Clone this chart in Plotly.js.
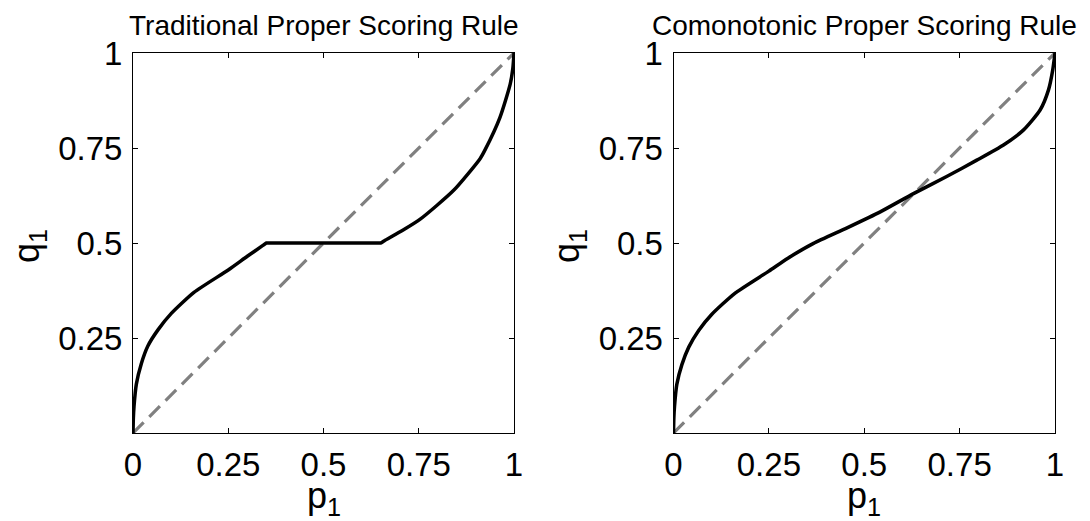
<!DOCTYPE html>
<html>
<head>
<meta charset="utf-8">
<script src="https://cdn.plot.ly/plotly-3.0.1.min.js"></script>
<style>html,body{margin:0;padding:0;background:#fff;}#chart{width:1090px;height:521px;}</style>
</head>
<body>
<div id="chart"></div>
<script>
// Traditional proper scoring rule (left panel)
const tradP = [0, 0.001, 0.0026, 0.0087, 0.022, 0.039, 0.066, 0.10, 0.16, 0.25, 0.30, 0.34, 0.35, 0.36, 0.5, 0.64, 0.65, 0.66, 0.709, 0.753, 0.841, 0.911, 0.924, 0.963, 0.990, 0.997, 1];
const tradQ = [0, 0.04, 0.069, 0.128, 0.183, 0.229, 0.272, 0.314, 0.370, 0.429, 0.465, 0.493, 0.5, 0.5, 0.5, 0.5, 0.5, 0.506, 0.534, 0.562, 0.638, 0.722, 0.745, 0.830, 0.918, 0.960, 1];
// Comonotonic proper scoring rule (right panel)
const comoP = [0, 0.001, 0.0026, 0.0087, 0.022, 0.04, 0.066, 0.10, 0.16, 0.25, 0.30, 0.367, 0.455, 0.542, 0.629, 0.716, 0.795, 0.865, 0.917, 0.961, 0.983, 0.994, 1];
const comoQ = [0, 0.04, 0.069, 0.128, 0.18, 0.226, 0.27, 0.312, 0.367, 0.426, 0.460, 0.499, 0.540, 0.582, 0.630, 0.675, 0.718, 0.758, 0.797, 0.85, 0.903, 0.955, 1];
// Diagonal reference line
const diagP = [0, 1];
const diagQ = [0, 1];
// Ticks and labels
const xTicks = [0, 0.25, 0.5, 0.75, 1];
const xTickText = ['0', '0.25', '0.5', '0.75', '1'];
const yTicks = [0.25, 0.5, 0.75, 1];
const yTickText = ['0.25', '0.5', '0.75', '1'];
const panelTitles = ['Traditional Proper Scoring Rule', 'Comonotonic Proper Scoring Rule'];

const W = 1090, H = 521;
const FONT = 'Liberation Sans, Arial, Helvetica, sans-serif';
const px = v => v / W, py = v => 1 - v / H;

const curveLine = {color: '#000000', width: 3.5, shape: 'spline', smoothing: 0.6};
const diagLine = {color: '#808080', width: 3.2, dash: '15px,8px'};

const traces = [
  {x: diagP, y: diagQ, xaxis: 'x', yaxis: 'y', mode: 'lines', line: diagLine, hoverinfo: 'skip'},
  {x: tradP, y: tradQ, xaxis: 'x', yaxis: 'y', mode: 'lines', line: curveLine},
  {x: diagP, y: diagQ, xaxis: 'x2', yaxis: 'y2', mode: 'lines', line: diagLine, hoverinfo: 'skip'},
  {x: comoP, y: comoQ, xaxis: 'x2', yaxis: 'y2', mode: 'lines', line: curveLine}
];

const TICKFONT = {family: FONT, size: 33, color: '#000'};
function xa(domain, anchor) {
  return {domain: domain, anchor: anchor, range: [0, 1], tickvals: xTicks, ticktext: xTickText,
    ticks: 'inside', ticklen: 5, tickwidth: 1, tickcolor: '#000', showline: true, linecolor: '#000', linewidth: 1,
    mirror: 'ticks', showgrid: false, zeroline: false, tickfont: TICKFONT, ticklabelstandoff: 2, fixedrange: true};
}
function ya(domain, anchor) {
  return {domain: domain, anchor: anchor, range: [0, 1], tickvals: yTicks, ticktext: yTickText,
    ticks: 'inside', ticklen: 5, tickwidth: 1, tickcolor: '#000', showline: true, linecolor: '#000', linewidth: 1,
    mirror: 'ticks', showgrid: false, zeroline: false, tickfont: TICKFONT, ticklabelstandoff: 3, fixedrange: true};
}

const L1 = 133, R1 = 514, L2 = 673.5, R2 = 1055, T = 53, B = 433;
const yDom = [1 - B / H, 1 - T / H];

const annotations = [
  {text: panelTitles[0], x: px((L1 + R1) / 2), y: py(25), xref: 'paper', yref: 'paper', xanchor: 'center', yanchor: 'middle', showarrow: false, font: {family: FONT, size: 28, color: '#000'}},
  {text: panelTitles[1], x: px((L2 + R2) / 2), y: py(25), xref: 'paper', yref: 'paper', xanchor: 'center', yanchor: 'middle', showarrow: false, font: {family: FONT, size: 28, color: '#000'}},
  {text: 'p<sub>1</sub>', x: px((L1 + R1) / 2), y: py(498), xref: 'paper', yref: 'paper', xanchor: 'center', yanchor: 'middle', showarrow: false, font: {family: FONT, size: 36, color: '#000'}},
  {text: 'p<sub>1</sub>', x: px((L2 + R2) / 2), y: py(498), xref: 'paper', yref: 'paper', xanchor: 'center', yanchor: 'middle', showarrow: false, font: {family: FONT, size: 36, color: '#000'}},
  {text: 'q<sub>1</sub>', x: px(29), y: py(246), xref: 'paper', yref: 'paper', xanchor: 'center', yanchor: 'middle', textangle: -90, showarrow: false, font: {family: FONT, size: 36, color: '#000'}},
  {text: 'q<sub>1</sub>', x: px(569), y: py(246), xref: 'paper', yref: 'paper', xanchor: 'center', yanchor: 'middle', textangle: -90, showarrow: false, font: {family: FONT, size: 36, color: '#000'}}
];

const layout = {
  width: W, height: H, margin: {l: 0, r: 0, t: 0, b: 0},
  paper_bgcolor: '#fff', plot_bgcolor: '#fff', showlegend: false,
  xaxis: xa([px(L1), px(R1)], 'y'), yaxis: ya(yDom, 'x'),
  xaxis2: xa([px(L2), px(R2)], 'y2'), yaxis2: ya(yDom, 'x2'),
  annotations: annotations,
  font: {family: FONT, color: '#000'}
};

Plotly.newPlot('chart', traces, layout, {displayModeBar: false, staticPlot: true});
</script>
</body>
</html>
